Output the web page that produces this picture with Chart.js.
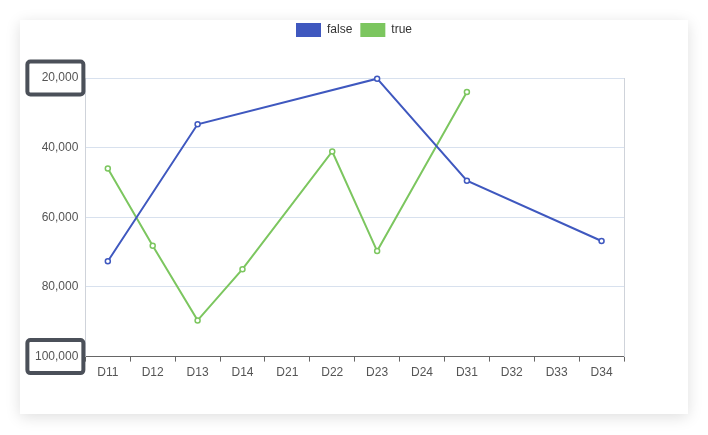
<!DOCTYPE html>
<html lang="en">
<head>
  <meta charset="UTF-8">
  <title>false / true</title>
  <script src="https://cdn.jsdelivr.net/npm/chart.js"></script>
  <style>
    html, body {
      margin: 0;
      background: #fff;
      font-family: "Liberation Sans", Arial, sans-serif;
    }
    .card {
      position: absolute;
      left: 20px;
      top: 20px;
      width: 668px;
      height: 394px;
      background: #fff;
      box-shadow: 0 3px 14px rgba(0, 0, 0, 0.13);
    }
    canvas { display: block; }
  </style>
</head>
<body>
  <div class="card"><canvas id="chart" width="668" height="394"></canvas></div>

  <script>
    const categories = ['D11', 'D12', 'D13', 'D14', 'D21', 'D22', 'D23', 'D24', 'D31', 'D32', 'D33', 'D34'];
    const falseValues = [72600, null, 33300, null, null, null, 20200, null, 49500, null, null, 66800];
    const trueValues = [46000, 68200, 89600, 74900, null, 41100, 69700, null, 24000, null, null, null];
    const yTicks = [20000, 40000, 60000, 80000, 100000];
    const boxedTicks = [20000, 100000];

    const BLUE = '#3f58bf';
    const GREEN = '#7cc65f';

    // legend: taller box, centred over the whole card
    const legendSpace = {
      id: 'legendSpace',
      beforeInit(chart) {
        const fit = chart.legend.fit;
        chart.legend.fit = function () {
          fit.call(this);
          this.height = 58;
        };
      },
      beforeDraw(chart) {
        chart.legend.top = -5;
        chart.legend.left = 0;
        chart.legend.right = chart.width;
        chart.legend.adjustHitBoxes();
      }
    };

    // dark frames round the first and last y labels
    const tickBoxes = {
      id: 'tickBoxes',
      afterDraw(chart) {
        const ctx = chart.ctx;
        const y = chart.scales.y;
        ctx.save();
        ctx.strokeStyle = '#4b5059';
        ctx.lineWidth = 4;
        boxedTicks.forEach(v => {
          const py = y.getPixelForValue(v);
          const right = chart.chartArea.left - 2;
          const w = 56, h = 33;
          ctx.beginPath();
          ctx.roundRect(right - w, py - h / 2, w, h, 3);
          ctx.stroke();
        });
        ctx.restore();
      }
    };

    new Chart(document.getElementById('chart'), {
      type: 'line',
      data: {
        labels: categories,
        datasets: [
          { label: 'false', data: falseValues, borderColor: BLUE, backgroundColor: BLUE },
          { label: 'true', data: trueValues, borderColor: GREEN, backgroundColor: GREEN }
        ]
      },
      options: {
        responsive: false,
        animation: false,
        spanGaps: true,
        layout: { padding: { left: 8, right: 64, top: 0, bottom: 30 } },
        elements: {
          line: { borderWidth: 2, tension: 0 },
          point: { radius: 2.5, borderWidth: 1.5, backgroundColor: '#fff', hoverRadius: 3 }
        },
        datasets: { line: { pointBackgroundColor: '#fff', clip: false } },
        plugins: {
          legend: {
            position: 'top',
            labels: {
              boxWidth: 25,
              boxHeight: 14,
              padding: 8,
              color: '#333',
              font: { family: '"Liberation Sans", Arial, sans-serif', size: 12 },
              generateLabels: chart => chart.data.datasets.map((d, i) => ({
                text: d.label, fillStyle: d.borderColor, strokeStyle: d.borderColor,
                lineWidth: 0, datasetIndex: i, fontColor: '#333'
              }))
            }
          },
          tooltip: { enabled: false }
        },
        scales: {
          x: {
            offset: true,
            grid: { offset: true, drawOnChartArea: false, drawTicks: true, tickLength: 5, color: '#666' },
            border: { color: '#666', width: 1 },
            ticks: { color: '#555', padding: 4, font: { size: 12 } }
          },
          y: {
            reverse: true,
            min: 20000,
            max: 100000,
            afterBuildTicks: s => { s.ticks = yTicks.map(v => ({ value: v })); },
            grid: { color: '#d8e1ee', drawTicks: false },
            border: { color: '#cfd3da' },
            ticks: { color: '#555', padding: 7, font: { size: 12 } }
          },
          y2: {
            position: 'right',
            grid: { display: false, drawTicks: false },
            border: { color: '#cfd3da' },
            ticks: { display: false }
          }
        }
      },
      plugins: [legendSpace, tickBoxes]
    });
  </script>
</body>
</html>
